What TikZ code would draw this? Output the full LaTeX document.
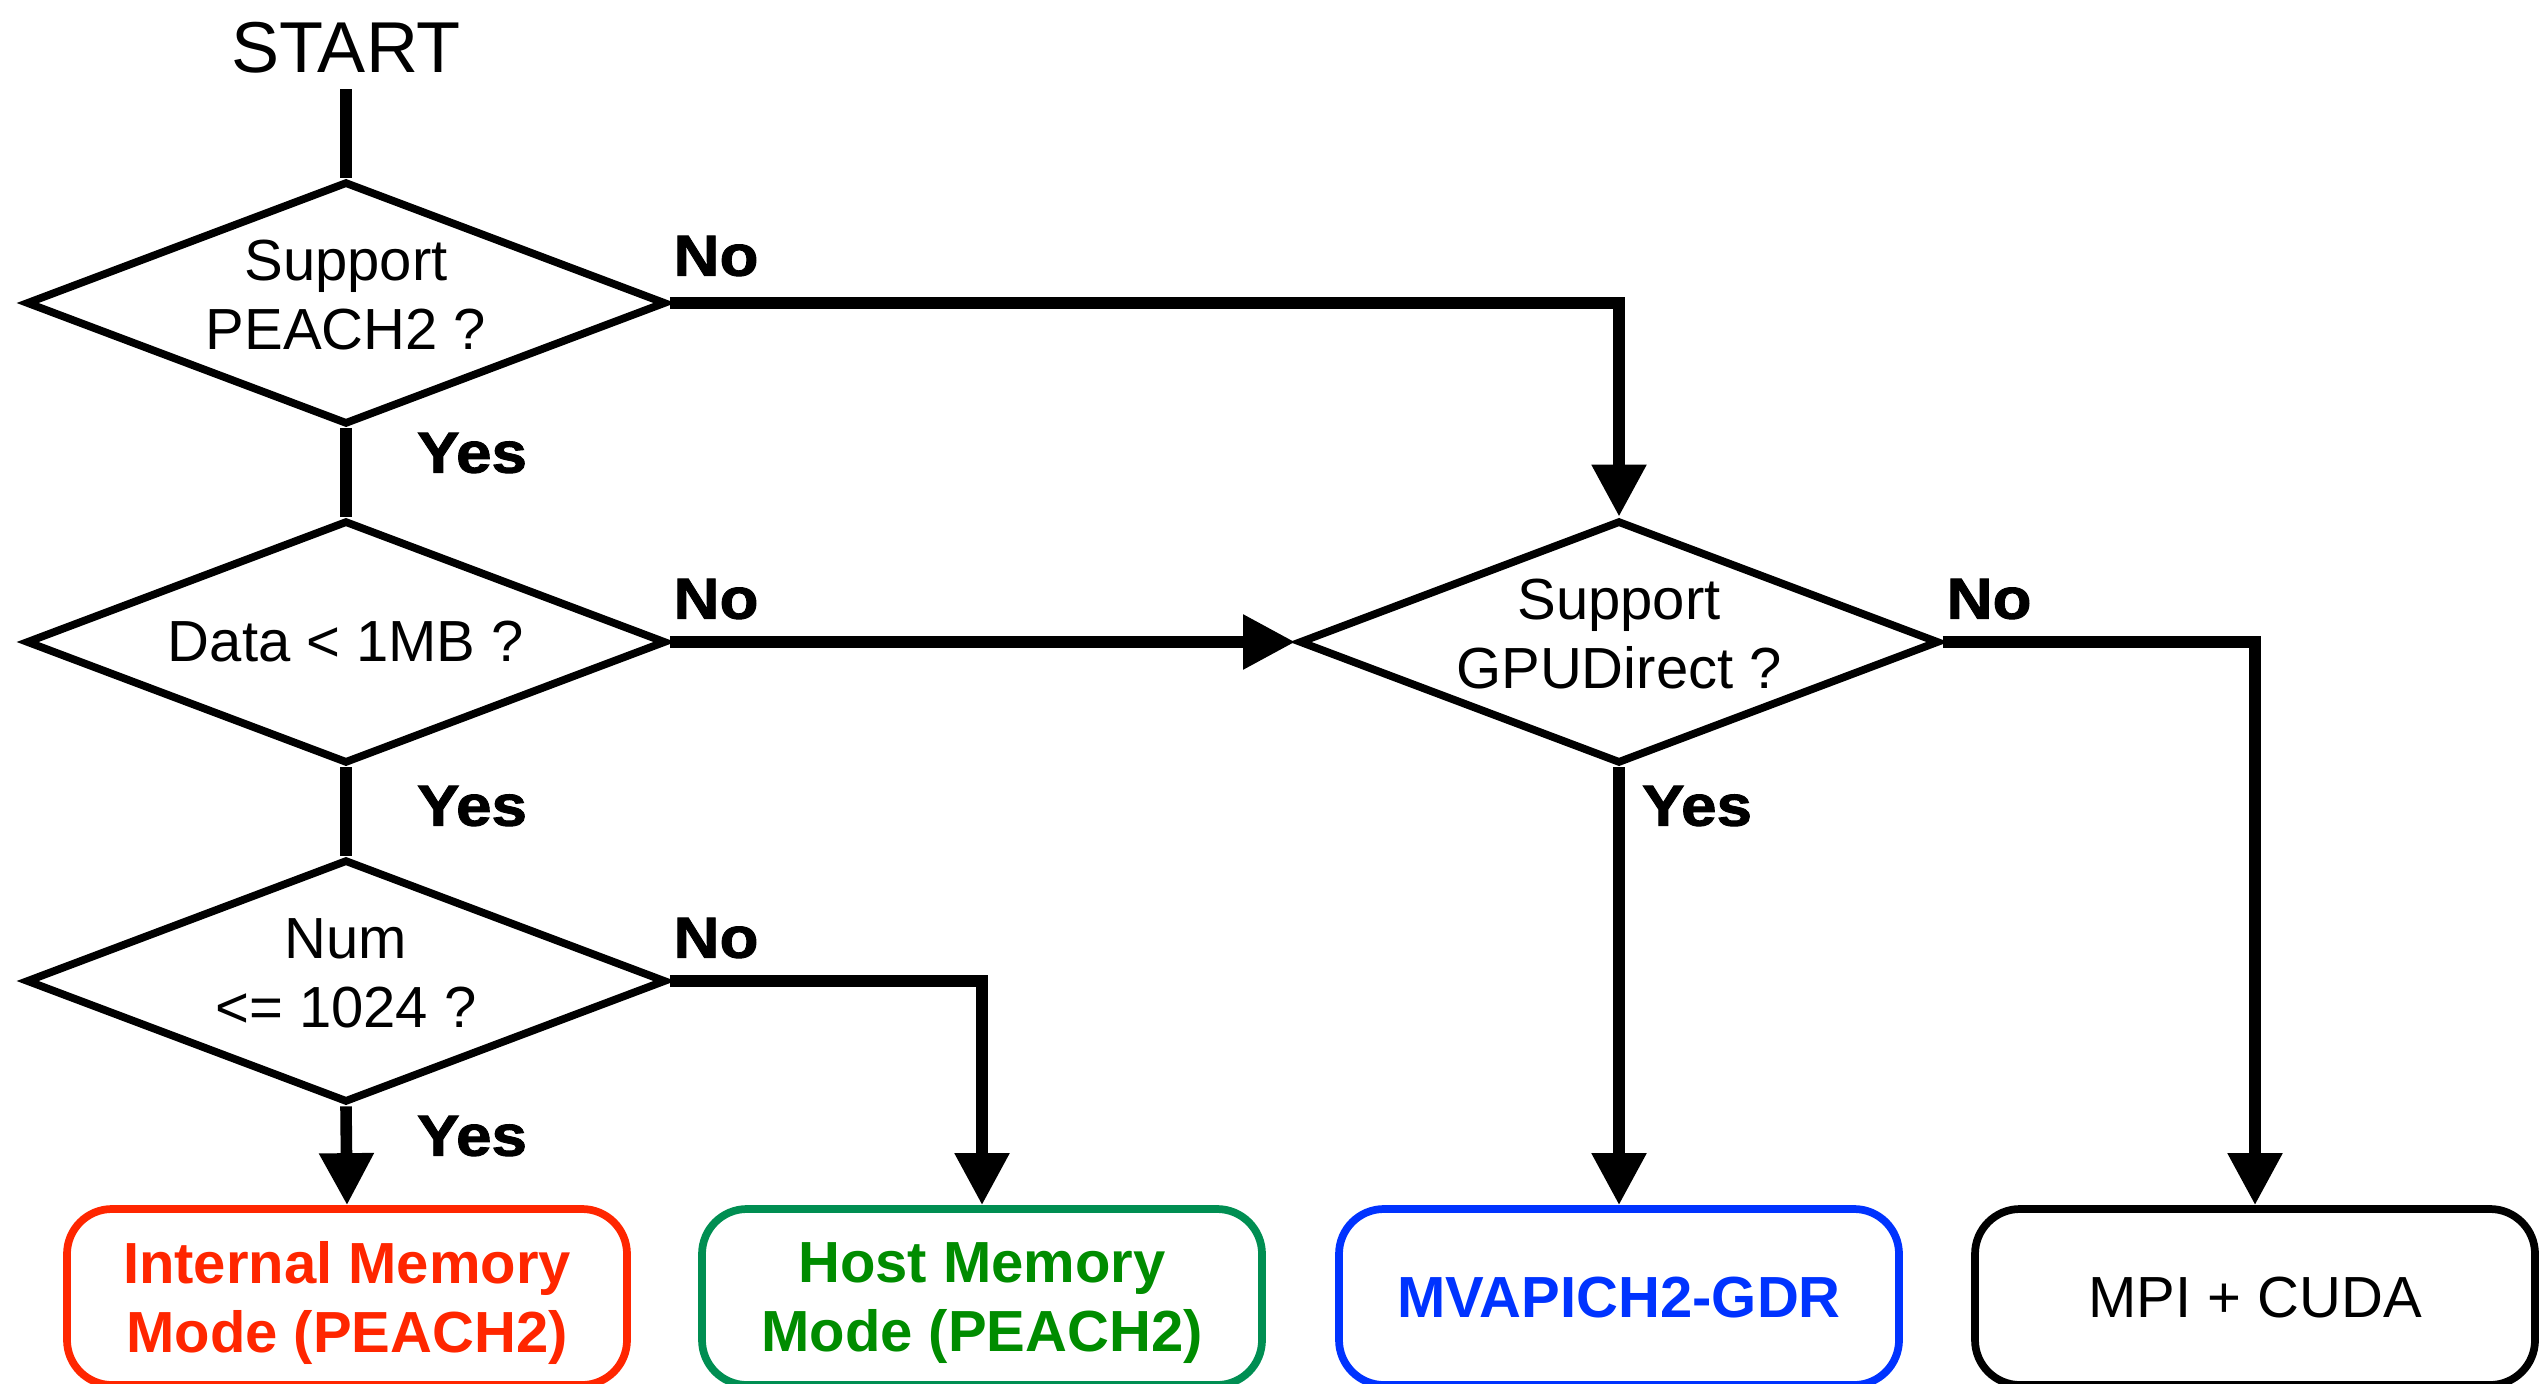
\documentclass[tikz,border=0pt]{standalone}
\usepackage{fontspec}
\setmainfont{Liberation Sans}
\newfontfamily\heavyfont{Liberation Sans}[FakeBold=1.6, FakeStretch=1.1]
\usetikzlibrary{shapes.geometric,arrows.meta}
\definecolor{InternalRed}{RGB}{255,38,0}
\definecolor{HostFrame}{RGB}{0,142,82}
\definecolor{HostText}{RGB}{0,140,0}
\definecolor{GdrBlue}{RGB}{0,51,255}

\begin{document}
\begin{tikzpicture}[
  decision/.style={diamond, draw, line width=2.2pt, aspect=2.63, inner ysep=0pt,
    inner xsep=-0.4cm, minimum width=6.4cm, minimum height=2.43cm, align=center,
    font=\fontsize{16.5}{19.5}\selectfont},
  twoline/.style={text depth=0.16cm},
  result/.style={rectangle, draw, line width=2.2pt, rounded corners=0.45cm,
    minimum width=5.6cm, minimum height=1.76cm, align=center, text depth=0pt,
    font=\fontsize{16.5}{19.5}\selectfont},
  conn/.style={line width=3.3pt},
  flow/.style={conn, -{Triangle[length=5.2mm,width=5.2mm]}},
  answer/.style={font=\heavyfont\bfseries\fontsize{16.5}{19.5}\selectfont}
]
\useasboundingbox (0,0) rectangle (25.44,-13.83);

% Start
\node[anchor=base, inner sep=0.15cm, font=\fontsize{20.5}{24}\selectfont] (start) at (3.46,-0.73) {START};

% Decisions
\node[decision, twoline] (peach) at (3.46,-3.03) {Support\\PEACH2 ?};
\node[decision] (size) at (3.46,-6.42) {Data < 1MB ?};
\node[decision, twoline] (num) at (3.46,-9.81) {Num\\<= 1024 ?};
\node[decision, twoline] (gpud) at (16.19,-6.42) {Support\\GPUDirect ?};

% Results
\node[result, draw=InternalRed, text=InternalRed, font=\bfseries\fontsize{16.5}{19.5}\selectfont] (internal) at (3.47,-12.97) {Internal Memory\\Mode (PEACH2)};
\node[result, draw=HostFrame, text=HostText, font=\bfseries\fontsize{16.5}{19.5}\selectfont] (host) at (9.82,-12.97) {Host Memory\\Mode (PEACH2)};
\node[result, draw=GdrBlue, text=GdrBlue, font=\bfseries\fontsize{16.5}{19.5}\selectfont] (gdr) at (16.19,-12.97) {MVAPICH2-GDR};
\node[result] (mpicuda) at (22.55,-12.97) {MPI + CUDA};

% Connectors
\draw[conn] (start.south) -- (peach.north);
\draw[conn] (peach.south) -- (size.north);
\draw[conn] (size.south) -- (num.north);
\draw[flow] (peach.east) -| (gpud.north);
\draw[flow] (size.east) -- (gpud.west);
\draw[flow] (num.south) -- (internal.north);
\draw[flow] (num.east) -| (host.north);
\draw[flow] (gpud.south) -- (gdr.north);
\draw[flow] (gpud.east) -| (mpicuda.north);

% Answers
\node[answer] (no1) at (7.16,-2.56) {No};
\node[answer] (yes1) at (4.72,-4.53) {Yes};
\node[answer] (no2) at (7.16,-5.99) {No};
\node[answer] (yes2) at (4.72,-8.06) {Yes};
\node[answer] (no3) at (7.16,-9.38) {No};
\node[answer] (yes3) at (4.72,-11.36) {Yes};
\node[answer] (no4) at (19.89,-5.99) {No};
\node[answer] (yes4) at (16.97,-8.06) {Yes};

\end{tikzpicture}
\end{document}
